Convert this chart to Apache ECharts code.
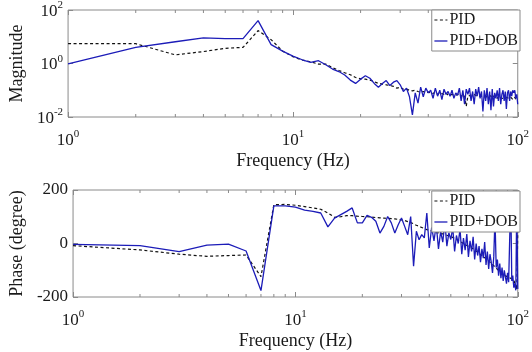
<!DOCTYPE html>
<html>
<head>
<meta charset="utf-8">
<script src="https://cdn.jsdelivr.net/npm/echarts@6/dist/echarts.min.js"></script>
<style>
  html, body { margin: 0; padding: 0; background: #fff; }
  #chart { width: 532px; height: 352px; }
</style>
</head>
<body>
<div id="chart"></div>
<script>
// frequency points (Hz)
const freq = [1, 2, 3, 4, 5, 6, 7, 8, 9, 10,
  11, 12, 13, 14, 15, 16, 17, 18, 19, 20,
  21, 22, 23, 24, 25, 26, 27, 28, 29, 30,
  31, 32, 33, 34, 35, 36, 37, 38, 39, 40,
  41, 42, 43, 44, 45, 46, 47, 48, 49, 50,
  51, 52, 53, 54, 55, 56, 57, 58, 59, 60,
  61, 62, 63, 64, 65, 66, 67, 68, 69, 70,
  71, 72, 73, 74, 75, 76, 77, 78, 79, 80,
  81, 82, 83, 84, 85, 86, 87, 88, 89, 90,
  91, 92, 93, 94, 95, 96, 97, 98, 99, 100];

// magnitude
const magPid = [5.5, 5.5, 2.1, 2.8, 3.7, 4.0, 17, 7.8, 2.9, 1.8,
  1.35, 1.15, 0.95, 0.95, 0.7, 0.55, 0.45, 0.38, 0.3, 0.27,
  0.26, 0.24, 0.21, 0.18, 0.17, 0.16, 0.15, 0.14, 0.12, 0.13,
  0.11, 0.11, 0.1, 0.095, 0.1, 0.09, 0.085, 0.09, 0.08, 0.085,
  0.08, 0.075, 0.085, 0.07, 0.08, 0.075, 0.07, 0.08, 0.065, 0.075,
  0.07, 0.08, 0.065, 0.07, 0.075, 0.06, 0.07, 0.065, 0.025, 0.06,
  0.07, 0.065, 0.06, 0.07, 0.065, 0.06, 0.07, 0.06, 0.065, 0.06,
  0.065, 0.055, 0.06, 0.065, 0.055, 0.06, 0.05, 0.06, 0.055, 0.06,
  0.05, 0.055, 0.06, 0.05, 0.055, 0.05, 0.06, 0.045, 0.055, 0.05,
  0.05, 0.045, 0.055, 0.05, 0.045, 0.05, 0.055, 0.045, 0.05, 0.045];
const magDob = [0.96, 4.0, 6.5, 9.0, 8.5, 8.5, 40, 5.1, 2.9, 1.9,
  1.38, 1.1, 1.27, 0.9, 0.62, 0.5, 0.37, 0.24, 0.18, 0.26,
  0.35, 0.28, 0.18, 0.13, 0.18, 0.23, 0.15, 0.2, 0.23, 0.16,
  0.09, 0.12, 0.057, 0.012, 0.08, 0.033, 0.13, 0.057, 0.12, 0.08,
  0.1, 0.05, 0.12, 0.06, 0.1, 0.045, 0.11, 0.07, 0.09, 0.06,
  0.1, 0.05, 0.08, 0.065, 0.12, 0.04, 0.1, 0.03, 0.11, 0.07,
  0.12, 0.04, 0.09, 0.03, 0.11, 0.06, 0.13, 0.05, 0.09, 0.016,
  0.1, 0.04, 0.12, 0.03, 0.09, 0.018, 0.11, 0.025, 0.08, 0.05,
  0.1, 0.04, 0.12, 0.03, 0.07, 0.1, 0.04, 0.09, 0.02, 0.08,
  0.1, 0.04, 0.09, 0.06, 0.1, 0.08, 0.1, 0.05, 0.07, 0.03];

// phase (degree)
const phasePid = [-8, -24, -40, -48, -45, -43, -124, 145, 146, 143,
  138, 133, 128, 114, 98, 100, 104, 104, 102, 101,
  100, 99, 97, 96, 95, 94, 93, 92, 90, 88,
  86, 82, 78, 74, 68, 64, 60, 56, 52, 50,
  47, 45, 41, 40, 37, 36, 33, 31, 28, 26,
  22, 19, 14, 11, 6, 4, 1, -4, -6, -10,
  -13, -16, -21, -24, -29, -32, -35, -41, -44, -49,
  -53, -57, -62, -65, -71, -74, -78, -83, -88, -92,
  -95, -101, -104, -107, -113, -116, -118, -121, -122, -124,
  -127, -128, -130, -133, -134, -137, -138, -142, -172, 44];
const phaseDob = [-3, -8, -30, -6, -2, -28, -176, 141, 141, 136,
  125, 120, 114, 62, 95, 108, 120, 133, 77, 77,
  105, 98, 83, 39, 64, 101, 77, 39, 70, 95,
  64, 33, 101, -85, 46, 14, 33, 21, 114, -17,
  60, 10, 70, -20, 45, 5, 80, -10, 40, 15,
  60, -30, 30, 0, 55, -40, 20, -25, 35, -50,
  10, -30, 25, -60, 0, -45, -10, -70, -20, -55,
  5, -80, -30, -95, -40, -70, -110, -50, 95, -90,
  -60, -120, -75, -130, -90, -140, -100, -125, -150, -110,
  -145, -150, 178, -140, -120, -165, -150, -175, 150, -170];

// minor tick positions on the log frequency axis
const minorFreq = [2, 3, 4, 5, 6, 7, 8, 9, 20, 30, 40, 50, 60, 70, 80, 90];

const FONT = 'Liberation Serif';
const BOX = '#8a8a8a';
const TXT = '#1a1a1a';
const BLUE = '#1c1cb8';
const DASH = [3, 2.5];

const pairs = (ys) => freq.map((f, i) => [f, ys[i]]);

// 10^n labels with a raised exponent
const powLabel = {
  show: true,
  margin: 12,
  showMinLabel: true,
  showMaxLabel: true,
  formatter: (v) => '{b|10}{s|' + Math.round(Math.log10(v)) + '}',
  rich: {
    b: { fontFamily: FONT, fontSize: 17, color: TXT, lineHeight: 20, verticalAlign: 'bottom' },
    s: { fontFamily: FONT, fontSize: 11, color: TXT, lineHeight: 20, verticalAlign: 'top', padding: [0, 0, 8, 0] }
  }
};

function freqAxis(grid, pos, withLabels) {
  return {
    type: 'log', logBase: 10, min: 1, max: 100, gridIndex: grid, position: pos,
    name: withLabels ? 'Frequency (Hz)' : '',
    nameLocation: 'middle', nameGap: 35,
    nameTextStyle: { fontFamily: FONT, fontSize: 18, color: TXT },
    axisLine: { show: false, onZero: false },
    axisTick: { show: true, inside: true, length: 5, lineStyle: { color: BOX } },
    axisLabel: withLabels ? powLabel : { show: false },
    splitLine: { show: false }
  };
}

function tickOnly(base) {
  return Object.assign({}, base, {
    name: '', axisLabel: { show: false }
  });
}

const magAxis = {
  type: 'log', logBase: 100, min: 0.01, max: 100, gridIndex: 0, position: 'left',
  name: 'Magnitude', nameLocation: 'middle', nameGap: 41,
  nameTextStyle: { fontFamily: FONT, fontSize: 18, color: TXT },
  axisLine: { show: false, onZero: false },
  axisTick: { show: true, inside: true, length: 5, lineStyle: { color: BOX } },
  axisLabel: Object.assign({}, powLabel, { margin: 5 }),
  splitLine: { show: false }
};

const phaseAxis = {
  type: 'value', min: -200, max: 200, interval: 200, gridIndex: 1, position: 'left',
  name: 'Phase (degree)', nameLocation: 'middle', nameGap: 41,
  nameTextStyle: { fontFamily: FONT, fontSize: 18, color: TXT },
  axisLine: { show: false, onZero: false },
  axisTick: { show: true, inside: true, length: 5, lineStyle: { color: BOX } },
  axisLabel: { fontFamily: FONT, fontSize: 17, color: TXT, margin: 5 },
  splitLine: { show: false }
};

function minorTicks(xi, yi, lo, hi) {
  return {
    type: 'custom', xAxisIndex: xi, yAxisIndex: yi, silent: true, z: 1,
    data: minorFreq.map(f => [f, lo]),
    renderItem: (params, api) => {
      const f = api.value(0);
      const b = api.coord([f, lo]);
      const t = api.coord([f, hi]);
      const st = { stroke: BOX, lineWidth: 1 };
      return {
        type: 'group',
        children: [
          { type: 'line', shape: { x1: b[0], y1: b[1], x2: b[0], y2: b[1] - 3 }, style: st },
          { type: 'line', shape: { x1: t[0], y1: t[1], x2: t[0], y2: t[1] + 3 }, style: st }
        ]
      };
    }
  };
}

function lineSeries(name, xi, yi, ys, dashed) {
  return {
    name: name, type: 'line', xAxisIndex: xi, yAxisIndex: yi,
    data: pairs(ys), symbol: 'none', animation: false, z: 3,
    lineStyle: dashed ? { color: '#111', width: 1.2, type: DASH } : { color: BLUE, width: 1.3 },
    itemStyle: { color: dashed ? '#111' : BLUE }
  };
}

function legendAt(top) {
  return {
    right: 12, top: top, orient: 'vertical', itemWidth: 13, itemHeight: 10, itemGap: 5,
    padding: [2, 2, 2, 2], backgroundColor: '#fff', borderColor: BOX, borderWidth: 1,
    itemStyle: { opacity: 0 },
    textStyle: { fontFamily: FONT, fontSize: 16, color: TXT, padding: [0, 0, 0, -3] },
    data: [
      { name: 'PID', lineStyle: { type: DASH, color: '#111', width: 1.2 } },
      { name: 'PID+DOB', lineStyle: { color: BLUE, width: 1.3 } }
    ],
    z: 10
  };
}

const chart = echarts.init(document.getElementById('chart'), null, { renderer: 'canvas' });
chart.setOption({
  animation: false,
  backgroundColor: '#fff',
  grid: [
    { left: 58, top: 10, width: 462, height: 107, show: true, borderColor: BOX, borderWidth: 1, backgroundColor: '#fff' },
    { left: 58, top: 190, width: 462, height: 107, show: true, borderColor: BOX, borderWidth: 1, backgroundColor: '#fff' }
  ],
  legend: [legendAt(10), legendAt(191)],
  xAxis: [
    freqAxis(0, 'bottom', true),
    freqAxis(0, 'top', false),
    freqAxis(1, 'bottom', true),
    freqAxis(1, 'top', false)
  ],
  yAxis: [
    magAxis,
    Object.assign(tickOnly(magAxis), { position: 'right' }),
    phaseAxis,
    Object.assign(tickOnly(phaseAxis), { position: 'right' })
  ],
  series: [
    minorTicks(0, 0, 0.01, 100),
    minorTicks(2, 2, -200, 200),
    lineSeries('PID', 0, 0, magPid, true),
    lineSeries('PID+DOB', 0, 0, magDob, false),
    lineSeries('PID', 2, 2, phasePid, true),
    lineSeries('PID+DOB', 2, 2, phaseDob, false)
  ]
});
</script>
</body>
</html>
